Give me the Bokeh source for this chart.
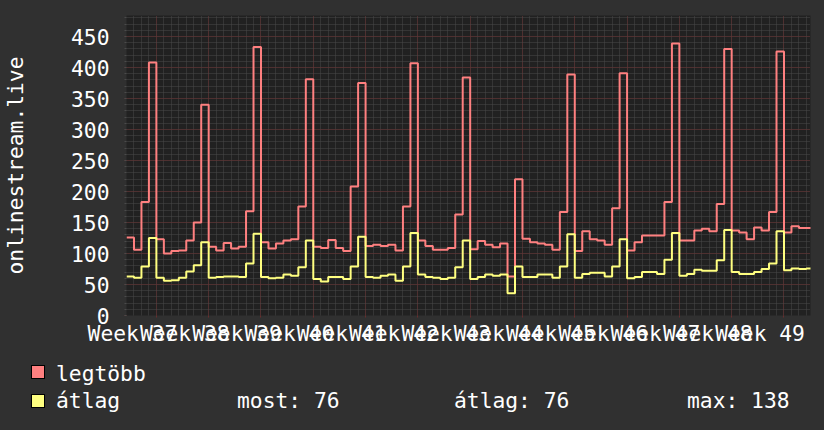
from bokeh.plotting import figure
from bokeh.models import Range1d, FixedTicker, AllLabels, Div
from bokeh.layouts import column
from bokeh.embed import file_html
from bokeh.resources import INLINE

# ---- data (one value per day, 92 days, weeks 37..49) ----
legtobb = [126, 106, 183, 408, 123, 100, 104, 105, 121, 150, 340, 111, 105, 117,
           108, 111, 168, 433, 118, 108, 116, 121, 123, 176, 381, 111, 109, 122,
           109, 104, 208, 375, 112, 114, 112, 114, 105, 176, 407, 121, 112, 106,
           106, 109, 163, 384, 107, 120, 114, 110, 116, 63, 220, 124, 118, 116,
           114, 106, 167, 389, 104, 136, 123, 121, 114, 173, 391, 105, 118, 129,
           129, 129, 183, 439, 121, 121, 137, 140, 136, 180, 430, 137, 134, 123,
           142, 137, 167, 426, 134, 144, 141, 141]
atlag = [63, 61, 79, 125, 61, 56, 57, 61, 71, 81, 118, 61, 62, 63,
         63, 62, 84, 132, 62, 60, 61, 66, 64, 78, 121, 59, 55, 62,
         62, 59, 79, 127, 62, 61, 64, 66, 56, 79, 133, 66, 62, 61,
         59, 61, 78, 121, 59, 62, 66, 64, 66, 36, 79, 62, 62, 66,
         66, 61, 79, 131, 61, 67, 69, 69, 63, 79, 123, 60, 62, 70,
         70, 67, 90, 133, 64, 67, 74, 72, 72, 89, 138, 70, 67, 67,
         70, 75, 84, 136, 73, 76, 75, 76]
week_labels = ["Week 37", "Week 38", "Week 39", "Week 40", "Week 41", "Week 42",
               "Week 43", "Week 44", "Week 45", "Week 46", "Week 47", "Week 48",
               "Week 49"]
y_ticks = [0, 50, 100, 150, 200, 250, 300, 350, 400, 450]
legend_names = ["legtöbb", "átlag"]
stats_text = ["most: 76", "átlag: 76", "max: 138"]

# ---- styling ----
FONT = "DejaVu Sans Mono"
FS = "21.3px"
OUTER = "#303030"
CANVAS = "#212121"
RED = "#FF8080"
YEL = "#FFFF80"
MAJ = "#682c2c"
MIN = "#4a4a4a"

n = len(legtobb)
first_week_day = 4
week_lines = [first_week_day + 7 * k for k in range(len(week_labels))]
label_pos = [round(w - 3.2, 3) for w in week_lines]
days = list(range(0, n + 1))

p = figure(width=824, height=350, x_range=Range1d(0, 91.55), y_range=Range1d(0, 484),
           output_backend="svg", toolbar_location=None,
           min_border_left=124, min_border_right=14, min_border_top=15, min_border_bottom=35)
p.background_fill_color = CANVAS
p.border_fill_color = OUTER
p.outline_line_color = None

# grids
p.xgrid.ticker = FixedTicker(ticks=week_lines, minor_ticks=days)
p.ygrid.ticker = FixedTicker(ticks=y_ticks, minor_ticks=list(range(0, 490, 10)))
for g in (p.xgrid, p.ygrid):
    g.grid_line_color = MAJ
    g.grid_line_dash = "1 1"
    g.grid_line_width = 1
    g.minor_grid_line_color = MIN
    g.minor_grid_line_dash = "1 1"

# y axis
ya = p.yaxis[0]
ya.ticker = FixedTicker(ticks=y_ticks, minor_ticks=list(range(0, 490, 10)))
ya.axis_line_color = None
ya.major_tick_in = 0
ya.major_tick_out = 2
ya.major_tick_line_color = MAJ
ya.minor_tick_in = 0
ya.minor_tick_out = 2
ya.minor_tick_line_color = MIN
ya.major_label_standoff = 15
ya.major_label_text_font = FONT
ya.major_label_text_font_size = FS
ya.major_label_text_color = "white"
ya.axis_label = "onlinestream.live"
ya.axis_label_text_font = FONT
ya.axis_label_text_font_size = FS
ya.axis_label_text_font_style = "normal"
ya.axis_label_text_color = "white"
ya.axis_label_text_line_height = 1.0
ya.axis_label_standoff = 40

# x axis
xa = p.xaxis[0]
xa.ticker = FixedTicker(ticks=label_pos, minor_ticks=week_lines)
xa.major_label_overrides = {pos: lab for pos, lab in zip(label_pos, week_labels)}
xa.major_label_policy = AllLabels()
xa.axis_line_color = None
xa.major_tick_line_color = None
xa.major_tick_in = 0
xa.major_tick_out = 0
xa.minor_tick_in = 0
xa.minor_tick_out = 2
xa.minor_tick_line_color = MAJ
xa.major_label_standoff = 3
xa.major_label_text_font = FONT
xa.major_label_text_font_size = FS
xa.major_label_text_color = "white"

# series (daily steps)
xs = list(range(n + 1))
p.step(xs, legtobb + [legtobb[-1]], mode="after", line_color=RED, line_width=2)
p.step(xs, atlag + [atlag[-1]], mode="after", line_color=YEL, line_width=2)

# ---- legend (HTML block under the plot) ----
def span(left, top, txt):
    return ('<span style="position:absolute;left:%dpx;top:%.1fpx;line-height:%s;'
            'white-space:pre;">%s</span>' % (left, top, FS, txt))

def square(left, top, col):
    return ('<span style="position:absolute;left:%dpx;top:%dpx;width:14px;height:14px;'
            'background:%s;border:1px solid #000;"></span>' % (left, top, col))

row_tops = [12.7, 40.3]
sq_tops = [15, 44]
parts = []
for name, col, rt, st in zip(legend_names, [RED, YEL], row_tops, sq_tops):
    parts.append(square(31, st, col))
    parts.append(span(56, rt, name))
for txt, X in zip(stats_text, [237, 454, 687]):
    parts.append(span(X, row_tops[1], txt))

legend_html = ('<div style="position:relative;width:824px;height:80px;background:%s;'
               'font-family:\'%s\';font-size:%s;color:#ffffff;">%s</div>'
               % (OUTER, FONT, FS, "".join(parts)))
legend = Div(text=legend_html, width=824, height=80, margin=0)

layout = column(p, legend, spacing=0)
html = file_html(layout, INLINE, title="onlinestream.live")
html = html.replace("</head>", "<style>html,body{margin:0;padding:0;background:#303030;overflow:hidden;}</style></head>")
open("out.html", "w").write(html)
